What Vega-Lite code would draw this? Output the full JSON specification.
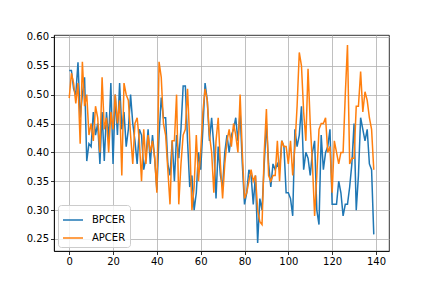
{
  "$schema": "https://vega.github.io/schema/vega-lite/v6.json",
  "autosize": {"type": "none"},
  "padding": {"left": 54, "top": 35, "right": 43, "bottom": 37},
  "width": 335,
  "height": 216,
  "background": "white",
  "data": {"values": [
    {"x":0,"BPCER":0.542,"APCER":0.494},{"x":1,"BPCER":0.542,"APCER":0.537},{"x":2,"BPCER":0.51,"APCER":0.52},{"x":3,"BPCER":0.50,"APCER":0.485},{"x":4,"BPCER":0.556,"APCER":0.52},
    {"x":5,"BPCER":0.46,"APCER":0.415},{"x":6,"BPCER":0.50,"APCER":0.557},{"x":7,"BPCER":0.53,"APCER":0.48},{"x":8,"BPCER":0.385,"APCER":0.50},{"x":9,"BPCER":0.415,"APCER":0.43},
    {"x":10,"BPCER":0.41,"APCER":0.45},{"x":11,"BPCER":0.47,"APCER":0.42},{"x":12,"BPCER":0.43,"APCER":0.48},{"x":13,"BPCER":0.45,"APCER":0.46},{"x":14,"BPCER":0.38,"APCER":0.40},
    {"x":15,"BPCER":0.47,"APCER":0.53},{"x":16,"BPCER":0.385,"APCER":0.44},{"x":17,"BPCER":0.47,"APCER":0.46},{"x":18,"BPCER":0.42,"APCER":0.40},{"x":19,"BPCER":0.52,"APCER":0.47},
    {"x":20,"BPCER":0.38,"APCER":0.44},{"x":21,"BPCER":0.50,"APCER":0.50},{"x":22,"BPCER":0.43,"APCER":0.45},{"x":23,"BPCER":0.52,"APCER":0.49},{"x":24,"BPCER":0.44,"APCER":0.36},
    {"x":25,"BPCER":0.47,"APCER":0.52},{"x":26,"BPCER":0.41,"APCER":0.50},{"x":27,"BPCER":0.44,"APCER":0.49},{"x":28,"BPCER":0.50,"APCER":0.43},{"x":29,"BPCER":0.45,"APCER":0.38},
    {"x":30,"BPCER":0.42,"APCER":0.45},{"x":31,"BPCER":0.38,"APCER":0.46},{"x":32,"BPCER":0.44,"APCER":0.42},{"x":33,"BPCER":0.43,"APCER":0.35},{"x":34,"BPCER":0.37,"APCER":0.44},
    {"x":35,"BPCER":0.39,"APCER":0.38},{"x":36,"BPCER":0.44,"APCER":0.43},{"x":37,"BPCER":0.38,"APCER":0.40},{"x":38,"BPCER":0.43,"APCER":0.42},{"x":39,"BPCER":0.39,"APCER":0.39},
    {"x":40,"BPCER":0.335,"APCER":0.33},{"x":41,"BPCER":0.43,"APCER":0.557},{"x":42,"BPCER":0.495,"APCER":0.53},{"x":43,"BPCER":0.46,"APCER":0.45},{"x":44,"BPCER":0.46,"APCER":0.43},
    {"x":45,"BPCER":0.38,"APCER":0.37},{"x":46,"BPCER":0.36,"APCER":0.31},{"x":47,"BPCER":0.42,"APCER":0.42},{"x":48,"BPCER":0.35,"APCER":0.42},{"x":49,"BPCER":0.43,"APCER":0.50},
    {"x":50,"BPCER":0.39,"APCER":0.31},{"x":51,"BPCER":0.44,"APCER":0.38},{"x":52,"BPCER":0.515,"APCER":0.43},{"x":53,"BPCER":0.515,"APCER":0.44},{"x":54,"BPCER":0.42,"APCER":0.51},
    {"x":55,"BPCER":0.34,"APCER":0.42},{"x":56,"BPCER":0.36,"APCER":0.30},{"x":57,"BPCER":0.30,"APCER":0.34},{"x":58,"BPCER":0.33,"APCER":0.43},{"x":59,"BPCER":0.40,"APCER":0.35},
    {"x":60,"BPCER":0.37,"APCER":0.40},{"x":61,"BPCER":0.44,"APCER":0.47},{"x":62,"BPCER":0.52,"APCER":0.51},{"x":63,"BPCER":0.49,"APCER":0.49},{"x":64,"BPCER":0.42,"APCER":0.43},
    {"x":65,"BPCER":0.46,"APCER":0.40},{"x":66,"BPCER":0.41,"APCER":0.33},{"x":67,"BPCER":0.32,"APCER":0.42},{"x":68,"BPCER":0.41,"APCER":0.46},{"x":69,"BPCER":0.36,"APCER":0.38},
    {"x":70,"BPCER":0.34,"APCER":0.32},{"x":71,"BPCER":0.40,"APCER":0.38},{"x":72,"BPCER":0.43,"APCER":0.42},{"x":73,"BPCER":0.40,"APCER":0.44},{"x":74,"BPCER":0.43,"APCER":0.41},
    {"x":75,"BPCER":0.44,"APCER":0.45},{"x":76,"BPCER":0.46,"APCER":0.43},{"x":77,"BPCER":0.42,"APCER":0.40},{"x":78,"BPCER":0.47,"APCER":0.50},{"x":79,"BPCER":0.38,"APCER":0.40},
    {"x":80,"BPCER":0.31,"APCER":0.32},{"x":81,"BPCER":0.33,"APCER":0.33},{"x":82,"BPCER":0.37,"APCER":0.35},{"x":83,"BPCER":0.36,"APCER":0.37},{"x":84,"BPCER":0.31,"APCER":0.35},
    {"x":85,"BPCER":0.36,"APCER":0.36},{"x":86,"BPCER":0.243,"APCER":0.30},{"x":87,"BPCER":0.32,"APCER":0.28},{"x":88,"BPCER":0.30,"APCER":0.275},{"x":89,"BPCER":0.38,"APCER":0.40},
    {"x":90,"BPCER":0.45,"APCER":0.475},{"x":91,"BPCER":0.38,"APCER":0.36},{"x":92,"BPCER":0.34,"APCER":0.35},{"x":93,"BPCER":0.38,"APCER":0.36},{"x":94,"BPCER":0.37,"APCER":0.36},
    {"x":95,"BPCER":0.38,"APCER":0.42},{"x":96,"BPCER":0.37,"APCER":0.35},{"x":97,"BPCER":0.42,"APCER":0.42},{"x":98,"BPCER":0.41,"APCER":0.41},{"x":99,"BPCER":0.33,"APCER":0.41},
    {"x":100,"BPCER":0.33,"APCER":0.38},{"x":101,"BPCER":0.32,"APCER":0.42},{"x":102,"BPCER":0.29,"APCER":0.36},{"x":103,"BPCER":0.44,"APCER":0.41},{"x":104,"BPCER":0.41,"APCER":0.48},
    {"x":105,"BPCER":0.43,"APCER":0.573},{"x":106,"BPCER":0.48,"APCER":0.55},{"x":107,"BPCER":0.37,"APCER":0.47},{"x":108,"BPCER":0.40,"APCER":0.42},{"x":109,"BPCER":0.39,"APCER":0.545},
    {"x":110,"BPCER":0.36,"APCER":0.45},{"x":111,"BPCER":0.40,"APCER":0.38},{"x":112,"BPCER":0.42,"APCER":0.29},{"x":113,"BPCER":0.30,"APCER":0.36},{"x":114,"BPCER":0.275,"APCER":0.44},
    {"x":115,"BPCER":0.43,"APCER":0.45},{"x":116,"BPCER":0.37,"APCER":0.45},{"x":117,"BPCER":0.40,"APCER":0.46},{"x":118,"BPCER":0.41,"APCER":0.40},{"x":119,"BPCER":0.44,"APCER":0.41},
    {"x":120,"BPCER":0.31,"APCER":0.33},{"x":121,"BPCER":0.31,"APCER":0.42},{"x":122,"BPCER":0.31,"APCER":0.40},{"x":123,"BPCER":0.35,"APCER":0.38},{"x":124,"BPCER":0.33,"APCER":0.40},
    {"x":125,"BPCER":0.29,"APCER":0.40},{"x":126,"BPCER":0.31,"APCER":0.50},{"x":127,"BPCER":0.31,"APCER":0.586},{"x":128,"BPCER":0.34,"APCER":0.38},{"x":129,"BPCER":0.38,"APCER":0.39},
    {"x":130,"BPCER":0.45,"APCER":0.39},{"x":131,"BPCER":0.30,"APCER":0.48},{"x":132,"BPCER":0.36,"APCER":0.48},{"x":133,"BPCER":0.46,"APCER":0.54},{"x":134,"BPCER":0.44,"APCER":0.47},
    {"x":135,"BPCER":0.42,"APCER":0.505},{"x":136,"BPCER":0.44,"APCER":0.49},{"x":137,"BPCER":0.38,"APCER":0.46},{"x":138,"BPCER":0.37,"APCER":0.44},{"x":139,"BPCER":0.258,"APCER":0.37}
  ]},
  "transform": [{"fold": ["BPCER", "APCER"], "as": ["series", "value"]}],
  "config": {
    "font": "DejaVu Sans",
    "view": {"stroke": "black", "strokeWidth": 0.8},
    "axis": {
      "domainColor": "black", "domainWidth": 0.8,
      "tickColor": "black", "tickWidth": 0.8, "tickSize": 3.5,
      "labelFont": "DejaVu Sans", "labelFontSize": 10, "labelColor": "black", "labelPadding": 2,
      "gridColor": "#b0b0b0", "gridWidth": 0.8, "title": null
    },
    "legend": {
      "orient": "bottom-left", "offset": 4, "padding": 4,
      "fillColor": "rgba(255,255,255,0.8)", "strokeColor": "#cccccc", "cornerRadius": 3,
      "symbolType": "stroke", "symbolSize": 400, "symbolStrokeWidth": 1.5,
      "labelFont": "DejaVu Sans", "labelFontSize": 10, "labelColor": "black", "labelOffset": 8,
      "rowPadding": 2, "title": null
    }
  },
  "layer": [
    {
      "transform": [{"filter": "datum.series === 'BPCER'"}],
      "mark": {"type": "line", "strokeWidth": 1.5},
      "encoding": {
        "x": {"field": "x", "type": "quantitative", "scale": {"domain": [-6.95, 145.95], "nice": false, "zero": false}, "axis": {"values": [0,20,40,60,80,100,120,140], "labelOverlap": false, "labelFlush": false}},
        "y": {"field": "value", "type": "quantitative", "scale": {"domain": [0.2292, 0.6033], "nice": false, "zero": false}, "axis": {"values": [0.25,0.30,0.35,0.40,0.45,0.50,0.55,0.60], "tickCount": 8, "format": ".2f", "labelOverlap": false, "labelFlush": false, "labelBound": false}},
        "color": {"field": "series", "type": "nominal", "scale": {"domain": ["BPCER", "APCER"], "range": ["#1f77b4", "#ff7f0e"]}}
      }
    },
    {
      "transform": [{"filter": "datum.series === 'APCER'"}],
      "mark": {"type": "line", "strokeWidth": 1.5},
      "encoding": {
        "x": {"field": "x", "type": "quantitative"},
        "y": {"field": "value", "type": "quantitative"},
        "color": {"field": "series", "type": "nominal"}
      }
    }
  ]
}
